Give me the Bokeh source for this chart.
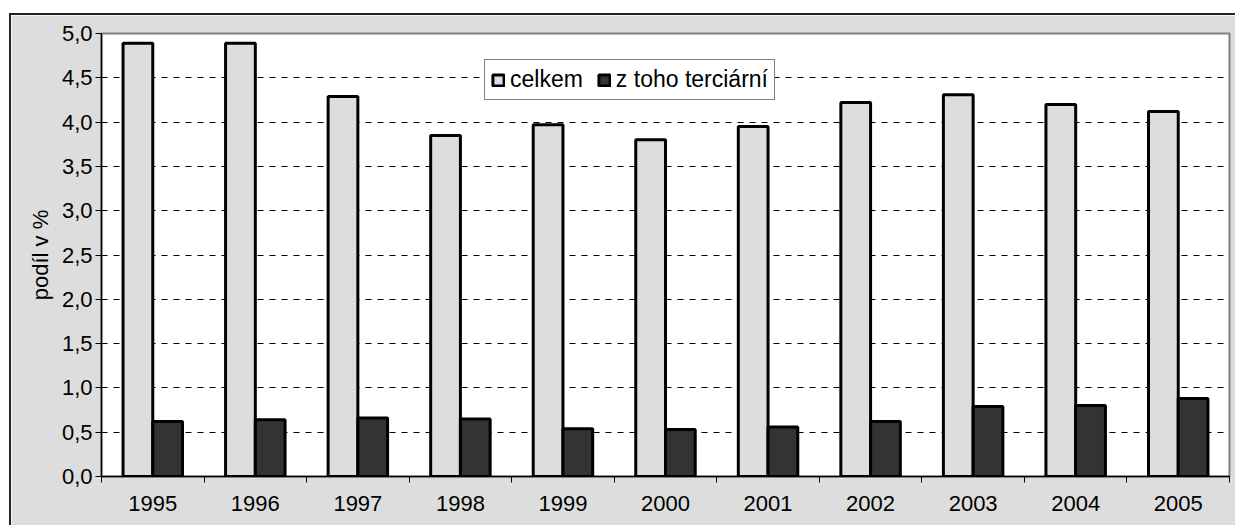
import numpy as np
from bokeh.plotting import figure
from bokeh.models import FixedTicker, CustomJSTickFormatter, Range1d, Legend, LegendItem, ColumnDataSource
from bokeh.embed import file_html
from bokeh.resources import INLINE

years = ["1995", "1996", "1997", "1998", "1999", "2000", "2001", "2002", "2003", "2004", "2005"]
celkem = [4.89, 4.89, 4.29, 3.85, 3.97, 3.80, 3.95, 4.22, 4.31, 4.20, 4.12]
terciarni = [0.62, 0.64, 0.66, 0.65, 0.54, 0.53, 0.56, 0.62, 0.79, 0.80, 0.88]

n = len(years)
centers = np.arange(n) + 0.5
bw = 0.29

src = ColumnDataSource(dict(
    xc=centers - bw / 2, xt=centers + bw / 2, celkem=celkem, terc=terciarni))

FONT = "Liberation Sans"
FS = "22px"

p = figure(width=1226, height=512, output_backend="svg", toolbar_location=None,
           x_range=Range1d(0, n), y_range=Range1d(0, 5),
           min_border_left=90, min_border_right=8, min_border_top=18, min_border_bottom=51)
p.border_fill_color = "#dddddd"
p.background_fill_color = "white"
p.outline_line_color = "#808080"
p.outline_line_width = 2
p.styles = {"border-left": "2px solid #222", "border-top": "2px solid #222",
            "margin-left": "9px", "margin-top": "13px"}

r1 = p.vbar(x="xc", top="celkem", width=bw, bottom=0, source=src,
            fill_color="#dddddd", line_color="black", line_width=3)
r2 = p.vbar(x="xt", top="terc", width=bw, bottom=0, source=src,
            fill_color="#333333", line_color="black", line_width=3)

# y axis
p.yaxis.ticker = FixedTicker(ticks=[i * 0.5 for i in range(11)])
p.yaxis.formatter = CustomJSTickFormatter(code="return tick.toFixed(1).replace('.', ',');")
p.yaxis.axis_label = "podíl v %"
p.yaxis.axis_label_text_font = FONT
p.yaxis.axis_label_text_font_style = "normal"
p.yaxis.axis_label_text_font_size = FS
p.yaxis.axis_label_text_color = "black"
p.yaxis.axis_label_standoff = 6
p.yaxis.major_label_text_font = FONT
p.yaxis.major_label_text_font_size = FS
p.yaxis.major_label_text_color = "black"
p.yaxis.major_tick_in = 0
p.yaxis.major_tick_out = 6
p.yaxis.major_tick_line_color = "black"
p.yaxis.minor_tick_out = 0
p.yaxis.minor_tick_in = 0
p.yaxis.axis_line_color = "black"
p.yaxis.axis_line_width = 1.5
p.yaxis.major_label_standoff = 3

# x axis: labels at centers, ticks at category boundaries (minor)
p.xaxis.ticker = FixedTicker(ticks=list(centers), minor_ticks=list(range(n + 1)))
p.xaxis.major_label_overrides = {float(c): y for c, y in zip(centers, years)}
p.xaxis.major_tick_in = 0
p.xaxis.major_tick_out = 0
p.xaxis.minor_tick_in = 0
p.xaxis.minor_tick_out = 6
p.xaxis.minor_tick_line_color = "black"
p.xaxis.major_label_text_font = FONT
p.xaxis.major_label_text_font_size = FS
p.xaxis.major_label_text_color = "black"
p.xaxis.major_label_standoff = 13
p.xaxis.axis_line_color = "black"
p.xaxis.axis_line_width = 1.5

p.xgrid.grid_line_color = None
p.ygrid.ticker = FixedTicker(ticks=[i * 0.5 for i in range(1, 10)])
p.ygrid.grid_line_color = "black"
p.ygrid.grid_line_dash = "6 6"
p.ygrid.grid_line_width = 1

legend = Legend(items=[LegendItem(label="celkem", renderers=[r1]),
                       LegendItem(label="z toho terciární", renderers=[r2])],
                orientation="horizontal", location=(383, 376))
legend.label_text_font = FONT
legend.label_text_font_size = "23px"
legend.label_text_color = "black"
legend.glyph_width = 14
legend.glyph_height = 14
legend.label_standoff = 5
legend.spacing = 14
legend.padding = 6
legend.margin = 0
legend.border_line_color = "black"
legend.border_line_width = 1
legend.background_fill_color = "white"
legend.background_fill_alpha = 1
p.add_layout(legend, "center")

open("out.html", "w").write(file_html(p, INLINE))
